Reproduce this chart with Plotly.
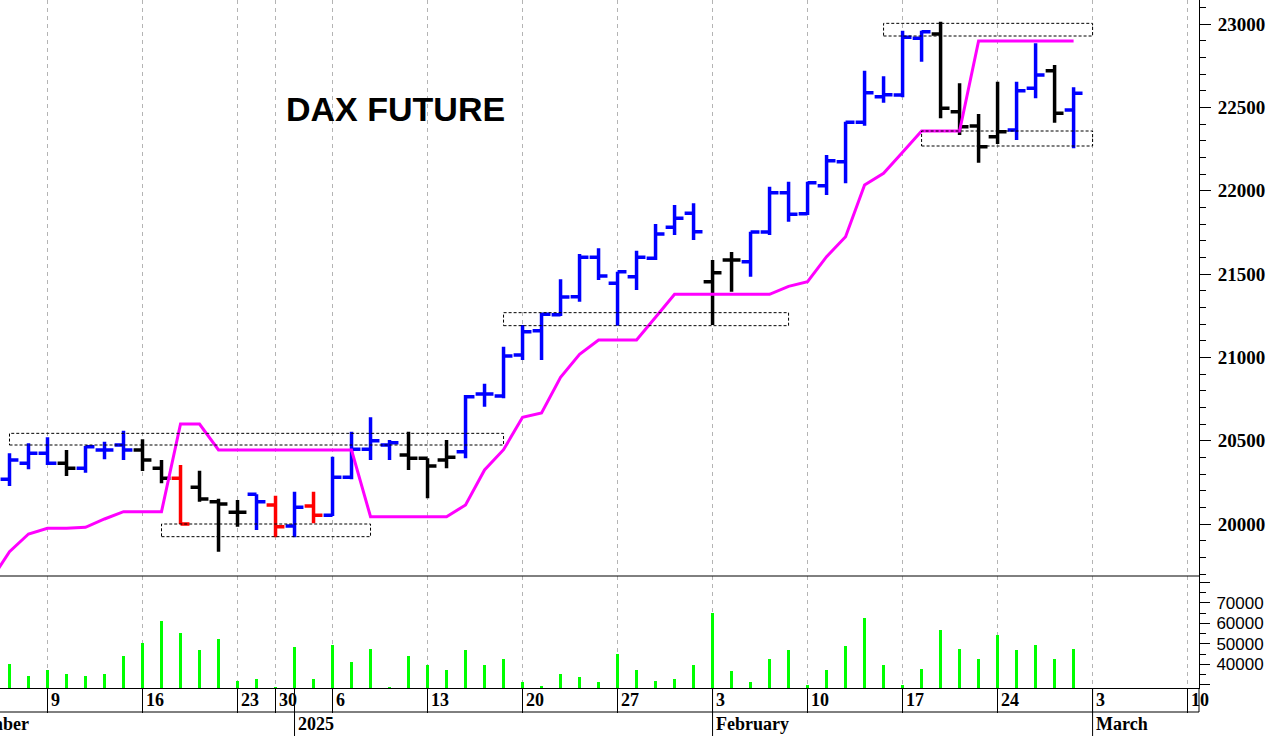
import plotly.graph_objects as go
import pandas as pd

# ---------------- data ----------------
holidays = ["2024-12-24", "2024-12-25", "2024-12-26", "2024-12-31", "2025-01-01"]
calendar = [d.strftime("%Y-%m-%d") for d in pd.bdate_range("2024-12-02", "2025-03-10")
            if d.strftime("%Y-%m-%d") not in holidays]
bar_dates = [d for d in calendar if "2024-12-05" <= d <= "2025-02-28"]

opens = [20268, 20364, 20424, 20364, 20334, 20444, 20474, 20444, 20334, 20274,
         20220, 20134, 20070, 20178, 20114, 19988, 20108, 20052, 20280, 20448,
         20474, 20414, 20394, 20384, 20434, 20780, 20768, 21014, 21160, 21256,
         21364, 21600, 21444, 21484, 21594, 21780, 21864, 21454, 21584, 21574,
         21752, 21988, 21862, 22030, 22174, 22410, 22564, 22574, 22914, 22940,
         22474, 22388, 22324, 22364, 22614, 22720, 22484]
highs = [20424, 20484, 20520, 20444, 20468, 20494, 20560, 20508, 20384, 20354,
         20320, 20152, 20144, 20178, 20170, 20194, 20194, 20404, 20554, 20640,
         20504, 20554, 20394, 20504, 20774, 20842, 21064, 21194, 21266, 21468,
         21620, 21654, 21514, 21640, 21800, 21914, 21924, 21584, 21632, 21754,
         22024, 22054, 22054, 22214, 22414, 22720, 22686, 22960, 22960, 23014,
         22644, 22460, 22654, 22654, 22884, 22754, 22620]
lows = [20228, 20328, 20354, 20288, 20308, 20388, 20384, 20318, 20244, 20000,
        20134, 19834, 19984, 19964, 19920, 19920, 20004, 20048, 20268, 20384,
        20384, 20324, 20154, 20334, 20394, 20704, 20754, 20984, 20984, 21248,
        21334, 21464, 21190, 21404, 21584, 21734, 21704, 21194, 21394, 21484,
        21734, 21814, 21854, 21974, 22044, 22390, 22528, 22560, 22774, 22434,
        22334, 22168, 22280, 22304, 22554, 22408, 22254]
closes = [20384, 20424, 20364, 20334, 20464, 20444, 20444, 20384, 20274, 20000,
          20150, 20120, 20070, 20134, 19984, 20100, 20052, 20280, 20448, 20500,
          20488, 20394, 20348, 20400, 20764, 20780, 21008, 21154, 21258, 21362,
          21600, 21488, 21514, 21600, 21740, 21834, 21754, 21508, 21584, 21752,
          21988, 21858, 22048, 22180, 22410, 22588, 22576, 22920, 22954, 22494,
          22384, 22264, 22354, 22600, 22694, 22464, 22584]
bar_colors = ["blue", "blue", "blue", "black", "blue", "blue", "blue", "black", "black", "red",
              "black", "black", "black", "blue", "red", "blue", "red", "blue", "blue", "blue",
              "blue", "black", "black", "black", "blue", "blue", "blue", "blue", "blue", "blue",
              "blue", "blue", "blue", "blue", "blue", "blue", "blue", "black", "black", "blue",
              "blue", "blue", "blue", "blue", "blue", "blue", "blue", "blue", "blue", "black",
              "black", "black", "black", "blue", "blue", "black", "blue"]
volumes = [40000, 34500, 37400, 35200, 34500, 35200, 44200, 50500, 61000, 55300,
           47100, 52400, 31600, 32600, 29000, 48400, 32600, 49500, 41300, 47600,
           29000, 44200, 39400, 37400, 47100, 39400, 42700, 31100, 29200, 35200,
           33900, 31100, 44800, 37400, 31600, 32600, 39400, 65200, 36500, 31100,
           42700, 47100, 29700, 37400, 49000, 62700, 39400, 29700, 37900, 56800,
           47600, 42700, 54400, 47100, 49500, 42700, 47600]

stop_dates = ["2024-12-04"] + bar_dates
stop_values = [19660, 19834, 19940, 19974, 19974, 19980, 20030, 20074, 20074, 20074,
               20600, 20600, 20444, 20444, 20444, 20444, 20444, 20444, 20444, 20444,
               20044, 20044, 20044, 20044, 20044, 20114, 20324, 20446, 20640, 20666,
               20880, 21018, 21104, 21104, 21104, 21240, 21378, 21378, 21378, 21378,
               21378, 21378, 21426, 21454, 21604, 21724, 22034, 22104, 22230, 22358,
               22358, 22358, 22898, 22898, 22898, 22898, 22898, 22898]

# dashed zones: (start date, end date, low, high)
zones = [("2024-12-05", "2025-01-17", 20474, 20544),
         ("2024-12-17", "2025-01-08", 19924, 20000),
         ("2025-01-17", "2025-02-07", 21190, 21268),
         ("2025-02-14", "2025-03-03", 22928, 23004),
         ("2025-02-18", "2025-03-03", 22268, 22358)]

week_starts = ["2024-12-09", "2024-12-16", "2024-12-23", "2024-12-30", "2025-01-06",
               "2025-01-13", "2025-01-20", "2025-01-27", "2025-02-03", "2025-02-10",
               "2025-02-17", "2025-02-24", "2025-03-03", "2025-03-10"]
week_labels = ["9", "16", "23", "30", "6", "13", "20", "27", "3", "10", "17", "24", "3", "10"]
month_starts = ["2025-01-02", "2025-02-03", "2025-03-03"]
month_labels = ["2025", "February", "March"]
first_month_label = "December"

price_ticks = [20000, 20500, 21000, 21500, 22000, 22500, 23000]
price_ticktext = [str(v) for v in price_ticks]
vol_ticks = [30000, 40000, 50000, 60000, 70000, 80000]
vol_ticktext = ["", "40000", "50000", "60000", "70000", ""]

# ---------------- figure ----------------
W, H = 1269, 736
ML, MR, MT, MB = 0, 70, 0, 48
plot_h = H - MT - MB
split = (688 - 576) / plot_h
row1 = -24 / plot_h
row2 = -48 / plot_h

colmap = {"blue": "#0000FF", "black": "#000000", "red": "#FF0000"}

fig = go.Figure()
fig.add_trace(go.Scatter(x=stop_dates, y=stop_values, mode="lines",
                         line=dict(color="#FF00FF", width=3), yaxis="y", hoverinfo="skip"))
for cname, col in colmap.items():
    sel = [i for i, c in enumerate(bar_colors) if c == cname]
    fig.add_trace(go.Ohlc(
        x=[bar_dates[i] for i in sel],
        open=[opens[i] for i in sel], high=[highs[i] for i in sel],
        low=[lows[i] for i in sel], close=[closes[i] for i in sel],
        increasing=dict(line=dict(color=col, width=3.5)),
        decreasing=dict(line=dict(color=col, width=3.5)),
        tickwidth=0.47, yaxis="y", hoverinfo="skip"))
fig.add_trace(go.Bar(x=bar_dates, y=volumes, width=0.2, marker=dict(color="#00FF00", line=dict(width=0)),
                     yaxis="y2", hoverinfo="skip"))

shapes = []
for (d0, d1, lo, hi) in zones:
    shapes.append(dict(type="rect", xref="x", yref="y", x0=d0, x1=d1, y0=lo, y1=hi,
                       line=dict(color="black", width=1, dash="3px,2px"), fillcolor="rgba(0,0,0,0)"))
# panel separator and axis rows
shapes.append(dict(type="line", xref="paper", yref="paper", x0=0, x1=1, y0=split, y1=split,
                   line=dict(color="black", width=1)))
shapes.append(dict(type="line", xref="paper", yref="paper", x0=0, x1=1, y0=row1, y1=row1,
                   line=dict(color="black", width=1)))
shapes.append(dict(type="line", xref="paper", yref="paper", x0=1, x1=1, y0=row1, y1=0,
                   line=dict(color="black", width=1)))
for d in month_starts:
    shapes.append(dict(type="line", xref="x", yref="paper", x0=d, x1=d, y0=0, y1=row2,
                       line=dict(color="black", width=1)))

lab_font = dict(family="Liberation Serif", size=18, color="black", weight="bold")
annotations = []
for d, t in zip(week_starts, week_labels):
    annotations.append(dict(x=d, y=row1 / 2, xref="x", yref="paper", text=t, showarrow=False,
                            xanchor="left", yanchor="middle", xshift=1, font=lab_font))
for d, t in zip(month_starts, month_labels):
    annotations.append(dict(x=d, y=(row1 + row2) / 2, xref="x", yref="paper", text=t, showarrow=False,
                            xanchor="left", yanchor="middle", xshift=1, font=lab_font))
annotations.append(dict(x=0, y=(row1 + row2) / 2, xref="paper", yref="paper", text=first_month_label,
                        showarrow=False, xanchor="right", yanchor="middle", xshift=31, font=lab_font))
annotations.append(dict(x=395 / (W - ML - MR), y=1 - 109 / plot_h, xref="paper", yref="paper",
                        text="DAX FUTURE", showarrow=False, xanchor="center", yanchor="middle",
                        font=dict(family="Liberation Sans", size=34, color="black", weight="bold")))

fig.update_layout(
    width=W, height=H, autosize=False,
    margin=dict(l=ML, r=MR, t=MT, b=MB, pad=0),
    paper_bgcolor="white", plot_bgcolor="white",
    showlegend=False,
    xaxis=dict(type="category", categoryorder="array", categoryarray=calendar,
               range=[2.5, 65.6], anchor="y2", domain=[0, 1], automargin=False,
               tickmode="array", tickvals=week_starts, showticklabels=False,
               ticks="outside", ticklen=24, tickwidth=1, tickcolor="black",
               showgrid=True, gridcolor="#b4b4b4", griddash="4px,4px", gridwidth=1,
               showline=True, linecolor="black", linewidth=1,
               rangeslider=dict(visible=False), fixedrange=True),
    yaxis=dict(domain=[split, 1], anchor="x", side="right", range=[19688, 23144], automargin=False,
               tickmode="array", tickvals=price_ticks, ticktext=price_ticktext, ticks="outside", ticklen=11,
               tickcolor="black", showline=True, linecolor="black", linewidth=1,
               showgrid=False, zeroline=False, ticklabelstandoff=3, fixedrange=True,
               minor=dict(dtick=100, tick0=0, ticks="outside", ticklen=6, tickcolor="black", showgrid=False),
               tickfont=dict(family="Liberation Serif", size=19, color="black", weight="bold")),
    yaxis2=dict(domain=[0, split], anchor="x", side="right", range=[28400, 83100], automargin=False,
                tickmode="array", tickvals=vol_ticks, ticktext=vol_ticktext, ticks="outside",
                ticklen=10, tickcolor="black", showline=True, linecolor="black", linewidth=1,
                showgrid=False, zeroline=False, ticklabelstandoff=3, fixedrange=True,
                minor=dict(dtick=5000, tick0=0, ticks="outside", ticklen=6, tickcolor="black", showgrid=False),
                tickfont=dict(family="Liberation Sans", size=17, color="black")),
    shapes=shapes,
    annotations=annotations,
    bargap=0,
)

fig.write_html("out.html", config={"displayModeBar": False},
               post_script="document.body.style.margin='0px';")
